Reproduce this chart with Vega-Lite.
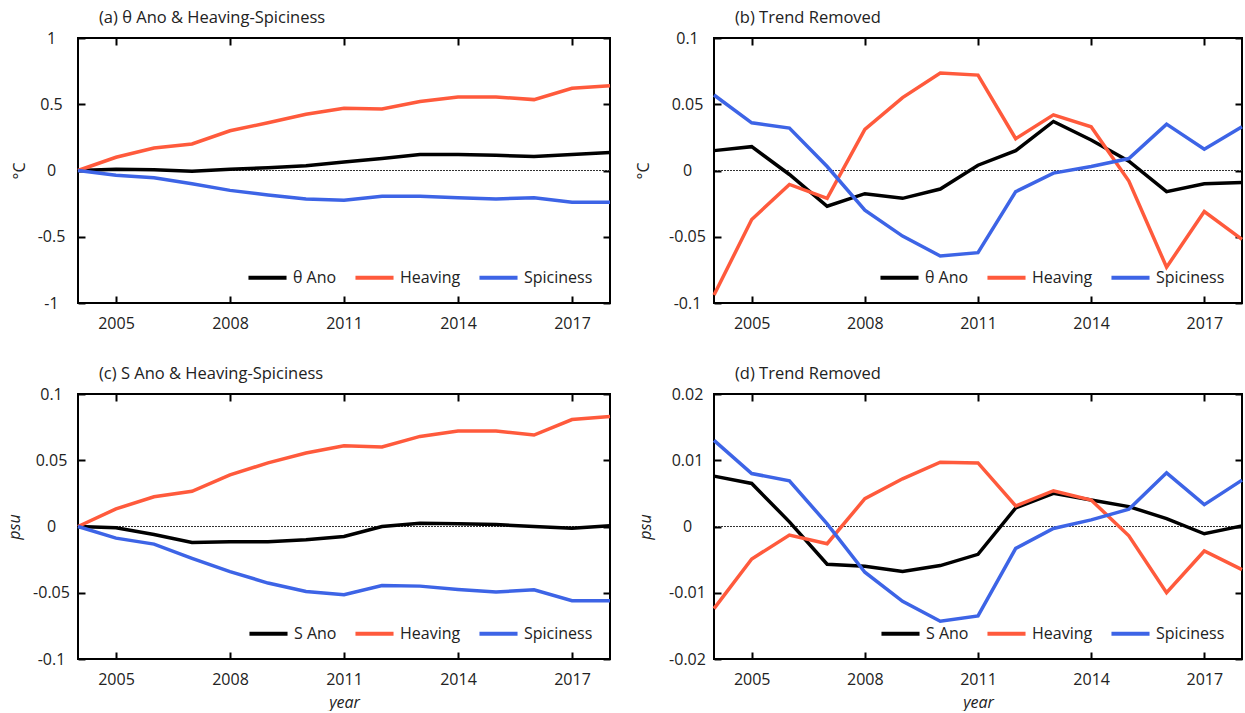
{
  "$schema": "https://vega.github.io/schema/vega-lite/v6.json",
  "background": "white",
  "padding": {"left": 5, "top": 8, "right": 0, "bottom": 0},
  "config": {
    "font": "Open Sans",
    "view": {"stroke": "black", "strokeWidth": 2},
    "axis": {"grid": false, "domain": false, "offset": -7, "zindex": 1, "ticks": true, "tickColor": "black", "tickOpacity": 1, "tickSize": 7, "tickWidth": 2, "labelFont": "Open Sans", "labelFontSize": 16, "labelColor": "#222", "titleFont": "Open Sans", "titleFontSize": 16, "titleFontWeight": "normal", "titleColor": "#222"},
    "axisLeft": {"labelAlign": "center", "labelPadding": 27, "titlePadding": 10},
    "axisBottom": {"labelPadding": 12},
    "axisTop": {"labels": false},
    "axisRight": {"labels": false},
    "title": {"anchor": "start", "frame": "group", "fontSize": 16.5, "fontWeight": "normal", "font": "Open Sans", "color": "#222", "dx": 21, "offset": 4},
    "legend": {"labelFont": "Open Sans", "labelFontSize": 16, "labelColor": "#222", "padding": 0}
  },
  "resolve": {"scale": {"color": "independent"}, "legend": {"color": "independent"}},
  "datasets": {
    "a": [
      {"year": 2004, "series": "θ Ano", "value": 0}, {"year": 2005, "series": "θ Ano", "value": 0.01}, {"year": 2006, "series": "θ Ano", "value": 0.005}, {"year": 2007, "series": "θ Ano", "value": -0.005}, {"year": 2008, "series": "θ Ano", "value": 0.01}, {"year": 2009, "series": "θ Ano", "value": 0.02}, {"year": 2010, "series": "θ Ano", "value": 0.035}, {"year": 2011, "series": "θ Ano", "value": 0.065}, {"year": 2012, "series": "θ Ano", "value": 0.09}, {"year": 2013, "series": "θ Ano", "value": 0.12}, {"year": 2014, "series": "θ Ano", "value": 0.12}, {"year": 2015, "series": "θ Ano", "value": 0.115}, {"year": 2016, "series": "θ Ano", "value": 0.105}, {"year": 2017, "series": "θ Ano", "value": 0.12}, {"year": 2018, "series": "θ Ano", "value": 0.135},
      {"year": 2004, "series": "Heaving", "value": 0}, {"year": 2005, "series": "Heaving", "value": 0.1}, {"year": 2006, "series": "Heaving", "value": 0.17}, {"year": 2007, "series": "Heaving", "value": 0.2}, {"year": 2008, "series": "Heaving", "value": 0.3}, {"year": 2009, "series": "Heaving", "value": 0.36}, {"year": 2010, "series": "Heaving", "value": 0.425}, {"year": 2011, "series": "Heaving", "value": 0.47}, {"year": 2012, "series": "Heaving", "value": 0.465}, {"year": 2013, "series": "Heaving", "value": 0.52}, {"year": 2014, "series": "Heaving", "value": 0.555}, {"year": 2015, "series": "Heaving", "value": 0.555}, {"year": 2016, "series": "Heaving", "value": 0.535}, {"year": 2017, "series": "Heaving", "value": 0.62}, {"year": 2018, "series": "Heaving", "value": 0.64},
      {"year": 2004, "series": "Spiciness", "value": 0}, {"year": 2005, "series": "Spiciness", "value": -0.035}, {"year": 2006, "series": "Spiciness", "value": -0.055}, {"year": 2007, "series": "Spiciness", "value": -0.1}, {"year": 2008, "series": "Spiciness", "value": -0.15}, {"year": 2009, "series": "Spiciness", "value": -0.185}, {"year": 2010, "series": "Spiciness", "value": -0.215}, {"year": 2011, "series": "Spiciness", "value": -0.225}, {"year": 2012, "series": "Spiciness", "value": -0.195}, {"year": 2013, "series": "Spiciness", "value": -0.195}, {"year": 2014, "series": "Spiciness", "value": -0.205}, {"year": 2015, "series": "Spiciness", "value": -0.215}, {"year": 2016, "series": "Spiciness", "value": -0.205}, {"year": 2017, "series": "Spiciness", "value": -0.24}, {"year": 2018, "series": "Spiciness", "value": -0.24}
    ],
    "b": [
      {"year": 2004, "series": "θ Ano", "value": 0.015}, {"year": 2005, "series": "θ Ano", "value": 0.018}, {"year": 2006, "series": "θ Ano", "value": -0.003}, {"year": 2007, "series": "θ Ano", "value": -0.027}, {"year": 2008, "series": "θ Ano", "value": -0.0175}, {"year": 2009, "series": "θ Ano", "value": -0.021}, {"year": 2010, "series": "θ Ano", "value": -0.014}, {"year": 2011, "series": "θ Ano", "value": 0.004}, {"year": 2012, "series": "θ Ano", "value": 0.015}, {"year": 2013, "series": "θ Ano", "value": 0.037}, {"year": 2014, "series": "θ Ano", "value": 0.023}, {"year": 2015, "series": "θ Ano", "value": 0.007}, {"year": 2016, "series": "θ Ano", "value": -0.016}, {"year": 2017, "series": "θ Ano", "value": -0.01}, {"year": 2018, "series": "θ Ano", "value": -0.009},
      {"year": 2004, "series": "Heaving", "value": -0.094}, {"year": 2005, "series": "Heaving", "value": -0.037}, {"year": 2006, "series": "Heaving", "value": -0.0105}, {"year": 2007, "series": "Heaving", "value": -0.021}, {"year": 2008, "series": "Heaving", "value": 0.031}, {"year": 2009, "series": "Heaving", "value": 0.055}, {"year": 2010, "series": "Heaving", "value": 0.0735}, {"year": 2011, "series": "Heaving", "value": 0.072}, {"year": 2012, "series": "Heaving", "value": 0.024}, {"year": 2013, "series": "Heaving", "value": 0.042}, {"year": 2014, "series": "Heaving", "value": 0.033}, {"year": 2015, "series": "Heaving", "value": -0.008}, {"year": 2016, "series": "Heaving", "value": -0.073}, {"year": 2017, "series": "Heaving", "value": -0.031}, {"year": 2018, "series": "Heaving", "value": -0.052},
      {"year": 2004, "series": "Spiciness", "value": 0.057}, {"year": 2005, "series": "Spiciness", "value": 0.036}, {"year": 2006, "series": "Spiciness", "value": 0.032}, {"year": 2007, "series": "Spiciness", "value": 0.003}, {"year": 2008, "series": "Spiciness", "value": -0.03}, {"year": 2009, "series": "Spiciness", "value": -0.0495}, {"year": 2010, "series": "Spiciness", "value": -0.0645}, {"year": 2011, "series": "Spiciness", "value": -0.062}, {"year": 2012, "series": "Spiciness", "value": -0.016}, {"year": 2013, "series": "Spiciness", "value": -0.002}, {"year": 2014, "series": "Spiciness", "value": 0.003}, {"year": 2015, "series": "Spiciness", "value": 0.009}, {"year": 2016, "series": "Spiciness", "value": 0.035}, {"year": 2017, "series": "Spiciness", "value": 0.016}, {"year": 2018, "series": "Spiciness", "value": 0.033}
    ],
    "c": [
      {"year": 2004, "series": "S Ano", "value": 0}, {"year": 2005, "series": "S Ano", "value": -0.001}, {"year": 2006, "series": "S Ano", "value": -0.006}, {"year": 2007, "series": "S Ano", "value": -0.012}, {"year": 2008, "series": "S Ano", "value": -0.0115}, {"year": 2009, "series": "S Ano", "value": -0.0115}, {"year": 2010, "series": "S Ano", "value": -0.01}, {"year": 2011, "series": "S Ano", "value": -0.0075}, {"year": 2012, "series": "S Ano", "value": 0}, {"year": 2013, "series": "S Ano", "value": 0.0025}, {"year": 2014, "series": "S Ano", "value": 0.002}, {"year": 2015, "series": "S Ano", "value": 0.0015}, {"year": 2016, "series": "S Ano", "value": 0}, {"year": 2017, "series": "S Ano", "value": -0.0013}, {"year": 2018, "series": "S Ano", "value": 0.0005},
      {"year": 2004, "series": "Heaving", "value": 0}, {"year": 2005, "series": "Heaving", "value": 0.0133}, {"year": 2006, "series": "Heaving", "value": 0.0224}, {"year": 2007, "series": "Heaving", "value": 0.0266}, {"year": 2008, "series": "Heaving", "value": 0.039}, {"year": 2009, "series": "Heaving", "value": 0.048}, {"year": 2010, "series": "Heaving", "value": 0.0555}, {"year": 2011, "series": "Heaving", "value": 0.061}, {"year": 2012, "series": "Heaving", "value": 0.06}, {"year": 2013, "series": "Heaving", "value": 0.068}, {"year": 2014, "series": "Heaving", "value": 0.072}, {"year": 2015, "series": "Heaving", "value": 0.072}, {"year": 2016, "series": "Heaving", "value": 0.069}, {"year": 2017, "series": "Heaving", "value": 0.0807}, {"year": 2018, "series": "Heaving", "value": 0.083},
      {"year": 2004, "series": "Spiciness", "value": 0}, {"year": 2005, "series": "Spiciness", "value": -0.0088}, {"year": 2006, "series": "Spiciness", "value": -0.0133}, {"year": 2007, "series": "Spiciness", "value": -0.024}, {"year": 2008, "series": "Spiciness", "value": -0.034}, {"year": 2009, "series": "Spiciness", "value": -0.0427}, {"year": 2010, "series": "Spiciness", "value": -0.049}, {"year": 2011, "series": "Spiciness", "value": -0.0515}, {"year": 2012, "series": "Spiciness", "value": -0.0445}, {"year": 2013, "series": "Spiciness", "value": -0.045}, {"year": 2014, "series": "Spiciness", "value": -0.0475}, {"year": 2015, "series": "Spiciness", "value": -0.0495}, {"year": 2016, "series": "Spiciness", "value": -0.0477}, {"year": 2017, "series": "Spiciness", "value": -0.056}, {"year": 2018, "series": "Spiciness", "value": -0.056}
    ],
    "d": [
      {"year": 2004, "series": "S Ano", "value": 0.0076}, {"year": 2005, "series": "S Ano", "value": 0.0065}, {"year": 2006, "series": "S Ano", "value": 0.0007}, {"year": 2007, "series": "S Ano", "value": -0.0057}, {"year": 2008, "series": "S Ano", "value": -0.006}, {"year": 2009, "series": "S Ano", "value": -0.0068}, {"year": 2010, "series": "S Ano", "value": -0.0059}, {"year": 2011, "series": "S Ano", "value": -0.0042}, {"year": 2012, "series": "S Ano", "value": 0.0028}, {"year": 2013, "series": "S Ano", "value": 0.005}, {"year": 2014, "series": "S Ano", "value": 0.004}, {"year": 2015, "series": "S Ano", "value": 0.003}, {"year": 2016, "series": "S Ano", "value": 0.0012}, {"year": 2017, "series": "S Ano", "value": -0.0011}, {"year": 2018, "series": "S Ano", "value": 0.0001},
      {"year": 2004, "series": "Heaving", "value": -0.0124}, {"year": 2005, "series": "Heaving", "value": -0.0049}, {"year": 2006, "series": "Heaving", "value": -0.0013}, {"year": 2007, "series": "Heaving", "value": -0.0026}, {"year": 2008, "series": "Heaving", "value": 0.0042}, {"year": 2009, "series": "Heaving", "value": 0.0072}, {"year": 2010, "series": "Heaving", "value": 0.0097}, {"year": 2011, "series": "Heaving", "value": 0.0096}, {"year": 2012, "series": "Heaving", "value": 0.0031}, {"year": 2013, "series": "Heaving", "value": 0.0054}, {"year": 2014, "series": "Heaving", "value": 0.004}, {"year": 2015, "series": "Heaving", "value": -0.0014}, {"year": 2016, "series": "Heaving", "value": -0.01}, {"year": 2017, "series": "Heaving", "value": -0.0037}, {"year": 2018, "series": "Heaving", "value": -0.0065},
      {"year": 2004, "series": "Spiciness", "value": 0.013}, {"year": 2005, "series": "Spiciness", "value": 0.008}, {"year": 2006, "series": "Spiciness", "value": 0.0069}, {"year": 2007, "series": "Spiciness", "value": 0.0004}, {"year": 2008, "series": "Spiciness", "value": -0.0069}, {"year": 2009, "series": "Spiciness", "value": -0.0113}, {"year": 2010, "series": "Spiciness", "value": -0.0143}, {"year": 2011, "series": "Spiciness", "value": -0.0135}, {"year": 2012, "series": "Spiciness", "value": -0.0033}, {"year": 2013, "series": "Spiciness", "value": -0.0003}, {"year": 2014, "series": "Spiciness", "value": 0.001}, {"year": 2015, "series": "Spiciness", "value": 0.0026}, {"year": 2016, "series": "Spiciness", "value": 0.0081}, {"year": 2017, "series": "Spiciness", "value": 0.0033}, {"year": 2018, "series": "Spiciness", "value": 0.007}
    ]
  },
  "columns": 2,
  "spacing": {"row": 32, "column": 16},
  "concat": [
    {
      "width": 532, "height": 265,
      "data": {"name": "a"},
      "title": "(a) θ Ano & Heaving-Spiciness",
      "layer": [
        {"mark": {"type": "rule", "strokeDash": [1.5, 1.5], "strokeWidth": 1, "color": "#333"}, "encoding": {"y": {"datum": 0, "type": "quantitative", "axis": null}}},
        {"mark": {"type": "line", "strokeWidth": 3.5},
         "encoding": {
           "x": {"field": "year", "type": "quantitative", "scale": {"domain": [2004, 2018], "nice": false, "zero": false}, "axis": {"values": [2005, 2008, 2011, 2014, 2017], "format": "d", "title": null}},
           "y": {"field": "value", "type": "quantitative", "scale": {"domain": [-1, 1], "nice": false}, "axis": {"values": [-1, -0.5, 0, 0.5, 1], "labelExpr": "'' + datum.value", "title": "°C"}},
           "color": {"field": "series", "type": "nominal", "scale": {"domain": ["θ Ano", "Heaving", "Spiciness"], "range": ["#000000", "#FF5A3C", "#3D64E6"]},
             "legend": {"orient": "bottom-right", "direction": "horizontal", "title": null, "symbolType": "stroke", "symbolSize": 1450, "symbolStrokeWidth": 4, "labelOffset": 4, "columnPadding": 10, "offset": 17}}
         }},
        {"mark": {"type": "line", "opacity": 0},
         "encoding": {
           "x": {"field": "year", "type": "quantitative", "axis": {"orient": "top", "values": [2005, 2008, 2011, 2014, 2017], "title": null}},
           "y": {"field": "value", "type": "quantitative", "axis": {"orient": "right", "values": [-1, -0.5, 0, 0.5, 1], "title": null}},
           "detail": {"field": "series"}
         }}
      ],
      "resolve": {"axis": {"x": "independent", "y": "independent"}}
    },
    {
      "width": 528, "height": 265,
      "data": {"name": "b"},
      "title": "(b) Trend Removed",
      "layer": [
        {"mark": {"type": "rule", "strokeDash": [1.5, 1.5], "strokeWidth": 1, "color": "#333"}, "encoding": {"y": {"datum": 0, "type": "quantitative", "axis": null}}},
        {"mark": {"type": "line", "strokeWidth": 3.5},
         "encoding": {
           "x": {"field": "year", "type": "quantitative", "scale": {"domain": [2004, 2018], "nice": false, "zero": false}, "axis": {"values": [2005, 2008, 2011, 2014, 2017], "format": "d", "title": null}},
           "y": {"field": "value", "type": "quantitative", "scale": {"domain": [-0.1, 0.1], "nice": false}, "axis": {"values": [-0.1, -0.05, 0, 0.05, 0.1], "labelExpr": "'' + datum.value", "title": "°C", "titlePadding": 17}},
           "color": {"field": "series", "type": "nominal", "scale": {"domain": ["θ Ano", "Heaving", "Spiciness"], "range": ["#000000", "#FF5A3C", "#3D64E6"]},
             "legend": {"orient": "bottom-right", "direction": "horizontal", "title": null, "symbolType": "stroke", "symbolSize": 1450, "symbolStrokeWidth": 4, "labelOffset": 4, "columnPadding": 10, "offset": 17}}
         }},
        {"mark": {"type": "line", "opacity": 0},
         "encoding": {
           "x": {"field": "year", "type": "quantitative", "axis": {"orient": "top", "values": [2005, 2008, 2011, 2014, 2017], "title": null}},
           "y": {"field": "value", "type": "quantitative", "axis": {"orient": "right", "values": [-0.1, -0.05, 0, 0.05, 0.1], "title": null}},
           "detail": {"field": "series"}
         }}
      ],
      "resolve": {"axis": {"x": "independent", "y": "independent"}}
    },
    {
      "width": 532, "height": 265,
      "data": {"name": "c"},
      "title": "(c) S Ano & Heaving-Spiciness",
      "layer": [
        {"mark": {"type": "rule", "strokeDash": [1.5, 1.5], "strokeWidth": 1, "color": "#333"}, "encoding": {"y": {"datum": 0, "type": "quantitative", "axis": null}}},
        {"mark": {"type": "line", "strokeWidth": 3.5},
         "encoding": {
           "x": {"field": "year", "type": "quantitative", "scale": {"domain": [2004, 2018], "nice": false, "zero": false}, "axis": {"values": [2005, 2008, 2011, 2014, 2017], "format": "d", "title": "year", "titleFontStyle": "italic", "titlePadding": 7}},
           "y": {"field": "value", "type": "quantitative", "scale": {"domain": [-0.1, 0.1], "nice": false}, "axis": {"values": [-0.1, -0.05, 0, 0.05, 0.1], "labelExpr": "'' + datum.value", "title": "psu", "titleFontStyle": "italic", "titlePadding": 10}},
           "color": {"field": "series", "type": "nominal", "scale": {"domain": ["S Ano", "Heaving", "Spiciness"], "range": ["#000000", "#FF5A3C", "#3D64E6"]},
             "legend": {"orient": "bottom-right", "direction": "horizontal", "title": null, "symbolType": "stroke", "symbolSize": 1450, "symbolStrokeWidth": 4, "labelOffset": 4, "columnPadding": 10, "offset": 17}}
         }},
        {"mark": {"type": "line", "opacity": 0},
         "encoding": {
           "x": {"field": "year", "type": "quantitative", "axis": {"orient": "top", "values": [2005, 2008, 2011, 2014, 2017], "title": null}},
           "y": {"field": "value", "type": "quantitative", "axis": {"orient": "right", "values": [-0.1, -0.05, 0, 0.05, 0.1], "title": null}},
           "detail": {"field": "series"}
         }}
      ],
      "resolve": {"axis": {"x": "independent", "y": "independent"}}
    },
    {
      "width": 528, "height": 265,
      "data": {"name": "d"},
      "title": "(d) Trend Removed",
      "layer": [
        {"mark": {"type": "rule", "strokeDash": [1.5, 1.5], "strokeWidth": 1, "color": "#333"}, "encoding": {"y": {"datum": 0, "type": "quantitative", "axis": null}}},
        {"mark": {"type": "line", "strokeWidth": 3.5},
         "encoding": {
           "x": {"field": "year", "type": "quantitative", "scale": {"domain": [2004, 2018], "nice": false, "zero": false}, "axis": {"values": [2005, 2008, 2011, 2014, 2017], "format": "d", "title": "year", "titleFontStyle": "italic", "titlePadding": 7}},
           "y": {"field": "value", "type": "quantitative", "scale": {"domain": [-0.02, 0.02], "nice": false}, "axis": {"values": [-0.02, -0.01, 0, 0.01, 0.02], "labelExpr": "'' + datum.value", "title": "psu", "titleFontStyle": "italic", "titlePadding": 15}},
           "color": {"field": "series", "type": "nominal", "scale": {"domain": ["S Ano", "Heaving", "Spiciness"], "range": ["#000000", "#FF5A3C", "#3D64E6"]},
             "legend": {"orient": "bottom-right", "direction": "horizontal", "title": null, "symbolType": "stroke", "symbolSize": 1450, "symbolStrokeWidth": 4, "labelOffset": 4, "columnPadding": 10, "offset": 17}}
         }},
        {"mark": {"type": "line", "opacity": 0},
         "encoding": {
           "x": {"field": "year", "type": "quantitative", "axis": {"orient": "top", "values": [2005, 2008, 2011, 2014, 2017], "title": null}},
           "y": {"field": "value", "type": "quantitative", "axis": {"orient": "right", "values": [-0.02, -0.01, 0, 0.01, 0.02], "title": null}},
           "detail": {"field": "series"}
         }}
      ],
      "resolve": {"axis": {"x": "independent", "y": "independent"}}
    }
  ]
}
